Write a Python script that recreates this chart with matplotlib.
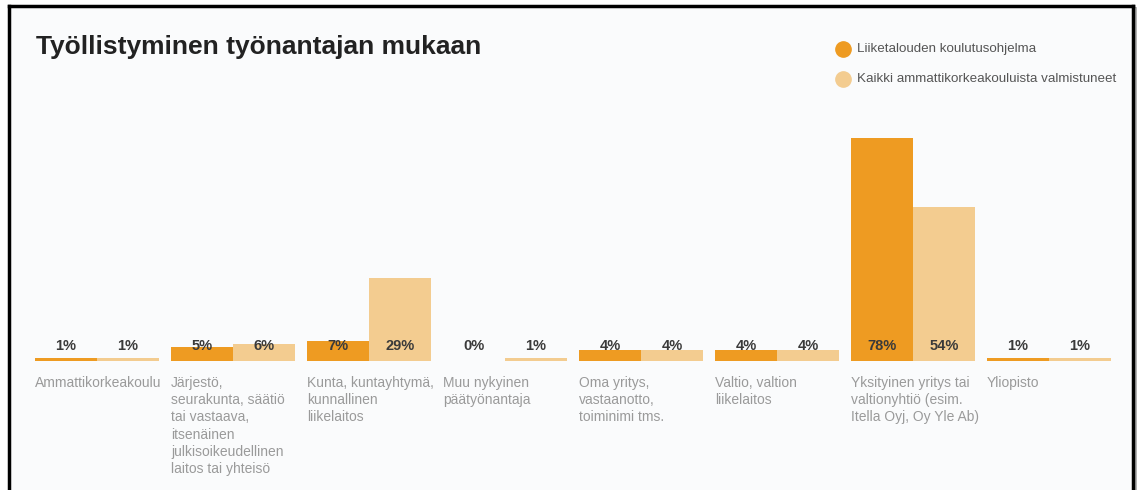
import numpy as np
import matplotlib.pyplot as plt
import matplotlib.lines as mlines
from matplotlib.patches import Rectangle

# Data
categories = [
    "Ammattikorkeakoulu",
    "Järjestö,\nseurakunta, säätiö\ntai vastaava,\nitsenäinen\njulkisoikeudellinen\nlaitos tai yhteisö",
    "Kunta, kuntayhtymä,\nkunnallinen\nliikelaitos",
    "Muu nykyinen\npäätyönantaja",
    "Oma yritys,\nvastaanotto,\ntoiminimi tms.",
    "Valtio, valtion\nliikelaitos",
    "Yksityinen yritys tai\nvaltionyhtiö (esim.\nItella Oyj, Oy Yle Ab)",
    "Yliopisto",
]
liiketalous = [1, 5, 7, 0, 4, 4, 78, 1]
kaikki = [1, 6, 29, 1, 4, 4, 54, 1]
series_names = ["Liiketalouden koulutusohjelma",
                "Kaikki ammattikorkeakouluista valmistuneet"]

ORANGE = "#EE9B22"
LIGHT = "#F3CC90"
FONT = ["Liberation Sans Narrow", "Liberation Sans", "DejaVu Sans"]
plt.rcParams['font.family'] = FONT

W, H = 1138, 490
fig = plt.figure(figsize=(W / 100, H / 100), dpi=100, facecolor="white")

# panel background and frame (left, top, right)
fig.add_artist(Rectangle((8 / W, 0), (1132 - 8) / W, (H - 6) / H,
                         transform=fig.transFigure, facecolor="#fafbfc",
                         edgecolor="none", zorder=0))
fr = dict(transform=fig.transFigure, color="black", lw=2.5, zorder=5)
fig.add_artist(mlines.Line2D([8.5 / W, 8.5 / W], [0, (H - 6.5) / H], **fr))
fig.add_artist(mlines.Line2D([8.5 / W, 1132.5 / W], [(H - 6.5) / H, (H - 6.5) / H], **fr))
fig.add_artist(mlines.Line2D([1132.5 / W, 1132.5 / W], [0, (H - 6.5) / H], **fr))
fig.add_artist(mlines.Line2D([1135 / W, 1135 / W], [0, (H - 8) / H],
                             transform=fig.transFigure, color="#aaaaaa", lw=2, zorder=4))

# axes placed so that baseline is at y=361 px and 100 % = 286 px
left, right = 35, 1111
base, top = 361, 75
ax = fig.add_axes([left / W, (H - base) / H, (right - left) / W, (base - top) / H])
ax.set_facecolor("none")

x = np.arange(len(categories))
w = 62 / 136
ax.bar(x - w / 2, liiketalous, width=w, color=ORANGE, linewidth=0)
ax.bar(x + w / 2, kaikki, width=w, color=LIGHT, linewidth=0)

for i in range(len(categories)):
    ax.text(x[i] - w / 2, 5.4, f"{liiketalous[i]}%", ha="center", va="center",
            fontsize=10.5, color="#3a3a3a", fontweight="bold")
    ax.text(x[i] + w / 2, 5.4, f"{kaikki[i]}%", ha="center", va="center",
            fontsize=10.5, color="#3a3a3a", fontweight="bold")
    ax.text(x[i] - w, -0.052, categories[i], transform=ax.get_xaxis_transform(),
            ha="left", va="top", fontsize=10, color="#9a9a9a", linespacing=1.3)

ax.set_xlim(-w, len(categories) - 1 + w)
ax.set_ylim(0, 100)
ax.axis("off")

fig.text(36 / W, 1 - 47 / H, "Työllistyminen työnantajan mukaan", fontsize=19,
         fontweight="bold", color="#222222", va="center", ha="left")

# legend
for k, (col, name) in enumerate(zip([ORANGE, LIGHT], series_names)):
    yy = 1 - (49 + 30 * k) / H
    fig.add_artist(mlines.Line2D([843 / W], [yy], marker="o", markersize=11,
                                 color=col, transform=fig.transFigure, linestyle="none"))
    fig.text(857 / W, yy, name, fontsize=9.6, color="#555555", va="center", ha="left")

fig.savefig("out.png", dpi=100, facecolor="white")
